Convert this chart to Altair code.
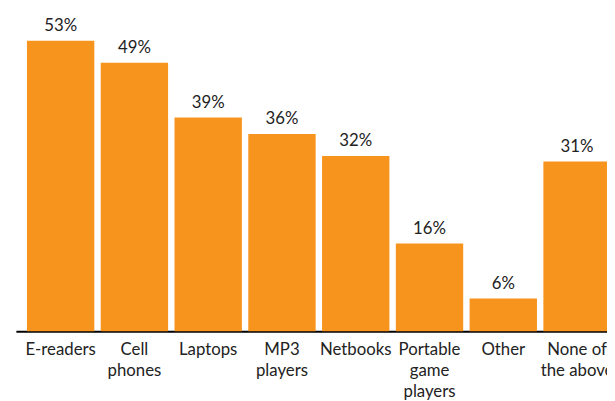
import altair as alt
import pandas as pd

categories = ["E-readers", "Cell|phones", "Laptops", "MP3|players", "Netbooks",
              "Portable|game|players", "Other", "None of|the above"]
values = [53, 49, 39, 36, 32, 16, 6, 31]
value_labels = [f"{v}%" for v in values]

df = pd.DataFrame({"cat": categories, "val": values, "lab": value_labels})

FONT = "Lato"
ORANGE = "#F7941D"

x_enc = alt.X("cat:N", sort=None, title=None,
              scale=alt.Scale(range=[0, 614], paddingInner=0.087, paddingOuter=0.15),
              axis=alt.Axis(labelAngle=0, labelExpr="split(datum.value, '|')",
                            labelFont=FONT, labelFontSize=17, labelColor="#222222",
                            labelLineHeight=21, labelPadding=11, ticks=False,
                            domainColor="#000000", domainWidth=2, grid=False,
                            labelOverlap=False))
y_enc = alt.Y("val:Q", title=None, scale=alt.Scale(domain=[0, 56], nice=False),
              axis=None)

bars = alt.Chart(df).mark_bar(color=ORANGE).encode(x=x_enc, y=y_enc)
texts = alt.Chart(df).mark_text(font=FONT, fontSize=17, color="#222222",
                                 baseline="alphabetic", dy=-10).encode(
    x=alt.X("cat:N", sort=None), y=alt.Y("val:Q"), text="lab:N")

chart = (bars + texts).properties(
    width=599, height=311,
    autosize=alt.AutoSizeParams(type="none"),
    padding={"left": 8, "top": 14, "right": 0, "bottom": 68},
).configure_view(stroke=None)

chart.save("out.html", embed_options={"renderer": "svg", "actions": False})
